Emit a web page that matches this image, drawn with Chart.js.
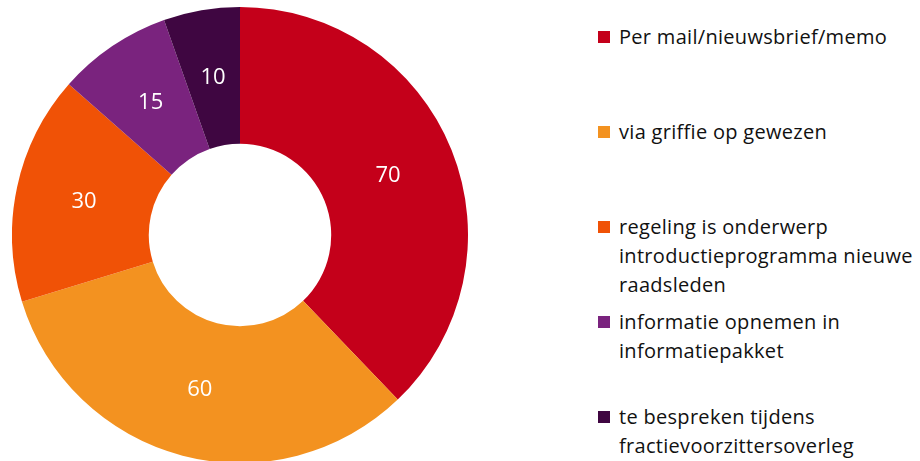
<!DOCTYPE html>
<html>
<head>
<meta charset="utf-8">
<script src="https://cdn.jsdelivr.net/npm/chart.js@4.4.1/dist/chart.umd.min.js"></script>
<style>
  html, body { margin: 0; padding: 0; background: #fff; }
  body { width: 920px; height: 461px; overflow: hidden; position: relative; font-family: "Open Sans", sans-serif; }
  #wrap { position: absolute; left: 12px; top: 7px; width: 456px; height: 456px; }
  #legend { position: absolute; left: 598px; top: 0; }
  .item { position: absolute; left: 0; width: 322px; }
  .box { position: absolute; left: 0; top: 9px; width: 12px; height: 12px; }
  .txt { position: absolute; left: 21px; top: 0; font-size: 20px; line-height: 29px; color: #111; white-space: nowrap; letter-spacing: 0.3px; font-variant-ligatures: none; }
</style>
</head>
<body>
<div id="wrap"><canvas id="donut"></canvas></div>
<div id="legend"></div>
<script>
// legend text per slice (lines as wrapped in the original)
const labels = [
  ["Per mail/nieuwsbrief/memo"],
  ["via griffie op gewezen"],
  ["regeling is onderwerp", "introductieprogramma nieuwe", "raadsleden"],
  ["informatie opnemen in", "informatiepakket"],
  ["te bespreken tijdens", "fractievoorzittersoverleg"]
];
const values = [70, 60, 30, 15, 10];
const colors = ["#C4001A", "#F39220", "#F05206", "#7A237E", "#3F0641"];

// legend, one entry every ~95px
const legend = document.getElementById("legend");
labels.forEach((lines, i) => {
  const item = document.createElement("div");
  item.className = "item";
  item.style.top = (22 + i * 95) + "px";
  item.innerHTML = '<div class="box" style="background:' + colors[i] + '"></div>' +
    '<div class="txt">' + lines.join("<br>") + '</div>';
  legend.appendChild(item);
});

// white value labels in the middle of each ring segment
const valueLabels = {
  id: "valueLabels",
  afterDatasetsDraw(chart) {
    const ctx = chart.ctx;
    const meta = chart.getDatasetMeta(0);
    ctx.save();
    ctx.fillStyle = "#fff";
    ctx.font = "22px 'Open Sans', sans-serif";
    ctx.textAlign = "center";
    ctx.textBaseline = "middle";
    meta.data.forEach((arc, i) => {
      const p = arc.tooltipPosition();
      ctx.fillText(String(values[i]), p.x, p.y);
    });
    ctx.restore();
  }
};

new Chart(document.getElementById("donut").getContext("2d"), {
  type: "doughnut",
  data: {
    labels: labels.map(l => l.join(" ")),
    datasets: [{
      data: values,
      backgroundColor: colors,
      borderWidth: 0
    }]
  },
  options: {
    responsive: true,
    maintainAspectRatio: false,
    animation: false,
    cutout: "40%",
    layout: { padding: 0 },
    plugins: {
      legend: { display: false },
      tooltip: { enabled: false }
    }
  },
  plugins: [valueLabels]
});
</script>
</body>
</html>
